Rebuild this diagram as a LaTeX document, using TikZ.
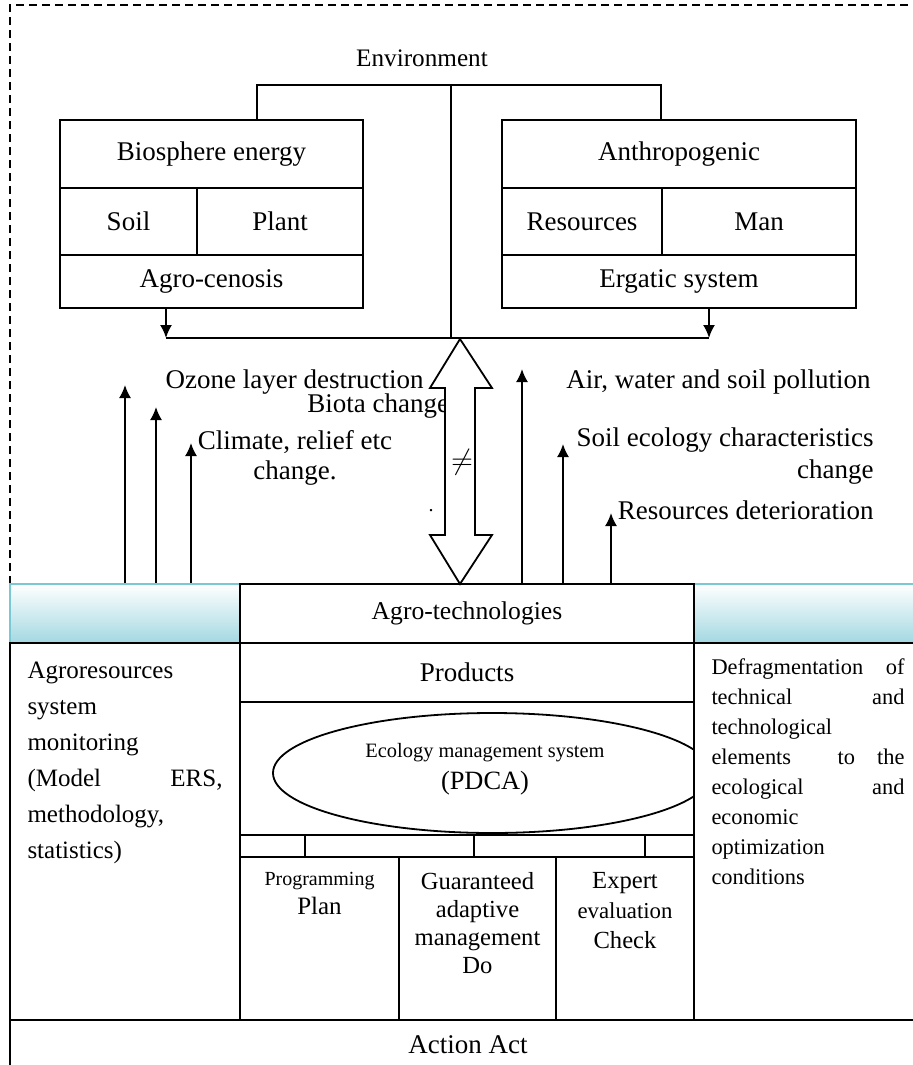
\documentclass[tikz,border=0pt]{standalone}
\usepackage{fontspec}
\setmainfont{Liberation Serif}
\usetikzlibrary{positioning,shapes.geometric,arrows.meta}
\definecolor{bandline}{RGB}{122,200,212}
\definecolor{bandfill}{RGB}{163,216,226}
\tikzset{
    cell/.style = {
        draw,
        line width=0.9pt,
        inner sep=0pt,
        font=\fontsize{13.5}{16}\selectfont
    },
    band/.style = {
        draw=bandline,
        line width=0.9pt,
        top color=white,
        bottom color=bandfill
    },
    note/.style = {
        inner sep=0pt,
        font=\fontsize{13.5}{15}\selectfont
    },
    flow/.style = {
        -{Latex[length=6.5pt,width=6pt]},
        line width=0.9pt
    },
    wire/.style = {
        line width=0.9pt
    },
    frame/.style = {
        line width=0.6pt,
        dash pattern=on 4pt off 2.5pt
    },
    bigarrow/.style = {
        draw,
        fill=white,
        line width=0.9pt,
        line join=miter
    }
}

\begin{document}
\begin{tikzpicture}[x=0.5pt, y=-0.5pt]
    \useasboundingbox (0,0) rectangle (912,1065);

    % Dashed frame
    \draw[frame] (10,584) -- (10,5) -- (916,5);

    % Environment with its two subsystems
    \node[note, font=\fontsize{12.6}{15}\selectfont] (env) at (422,58) {Environment};

    \node[cell, minimum width=151.5pt, minimum height=34pt]   (bio)     at (211.5,154)   {Biosphere energy};
    \node[cell, minimum width=68.5pt,  minimum height=33.5pt] (soil)    at (128.5,221.5) {Soil};
    \node[cell, minimum width=83pt,    minimum height=33.5pt] (plant)   at (280,221.5)   {Plant};
    \node[cell, minimum width=151.5pt, minimum height=26.5pt] (cenosis) at (211.5,281.5) {Agro-cenosis};

    \node[cell, minimum width=177pt, minimum height=34pt]   (anthro)  at (679,154)   {Anthropogenic};
    \node[cell, minimum width=80pt,  minimum height=33.5pt] (res)     at (582,221.5) {Resources};
    \node[cell, minimum width=97pt,  minimum height=33.5pt] (man)     at (759,221.5) {Man};
    \node[cell, minimum width=177pt, minimum height=26.5pt] (ergatic) at (679,281.5) {Ergatic system};

    \coordinate (envL) at (257,85);
    \coordinate (envM) at (451,85);
    \coordinate (envR) at (661,85);
    \coordinate (busL) at (166,338);
    \coordinate (busM) at (451,338);
    \coordinate (busR) at (709,338);

    \draw[wire] (bio.north -| envL) -- (envL) -- (envR) -- (anthro.north -| envR);
    \draw[wire] (envM) -- (busM);
    \draw[wire] (busL) -- (busR);
    \draw[flow] (cenosis.south -| busL) -- (busL);
    \draw[flow] (ergatic.south -| busR) -- (busR);

    % Impacts
    \node[note, anchor=east] (ozone) at (424,382) {Ozone layer destruction};
    \node[note, anchor=west] (biota) at (307,406) {Biota change};
    \node[note, align=center] (climate) at (295,458) {Climate, relief etc\\change.};
    \node[note, anchor=west] (pollution) at (566,382) {Air, water and soil pollution};
    \node[note, align=right, anchor=east, font=\fontsize{13.5}{16}\selectfont] (soilEco) at (874,456) {Soil ecology characteristics\\change};
    \node[note, anchor=east] (decline) at (874,510) {Resources deterioration};

    % Two-way arrow
    \coordinate (dTop) at (460,339);
    \coordinate (dBot) at (460,584);
    \draw[bigarrow] (dTop) -- ++(32,49) -- ++(-17,0) -- ++(0,147) -- ++(17,0) -- (dBot)
        -- ++(-30,-49) -- ++(15,0) -- ++(0,-147) -- ++(-15,0) -- cycle;
    \node[note] (neq) at (462,462) {$\neq$};
    \node[note, font=\fontsize{10}{12}\selectfont] (dot) at (431,511) {.};

    % Middle band
    \node[band, minimum width=115pt, minimum height=29.5pt] (bandL) at (125,613.5) {};
    \node[band, minimum width=111pt, minimum height=29.5pt] (bandR) at (805,613.5) {};
    \node[cell, minimum width=227pt, minimum height=29.5pt, font=\fontsize{12.8}{15}\selectfont] (tech) at (467,613.5) {Agro-technologies};

    \coordinate (upA) at (125,385);
    \coordinate (upB) at (156,407);
    \coordinate (upC) at (191,443);
    \coordinate (upD) at (522,369);
    \coordinate (upE) at (563,444);
    \coordinate (upF) at (611,513);
    \foreach \p in {upA,upB,upC}
        \draw[flow] (bandL.north -| \p) -- (\p);
    \foreach \p in {upD,upE,upF}
        \draw[flow] (tech.north -| \p) -- (\p);

    % Lower part
    \node[cell, minimum width=115pt, minimum height=188.5pt] (monL) at (125,831.5) {};
    \node[cell, minimum width=111pt, minimum height=188.5pt] (monR) at (805,831.5) {};
    \node[cell, minimum width=227pt, minimum height=29.5pt] (prod) at (467,672.5) {Products};
    \node[cell, minimum width=227pt, minimum height=66.5pt] (pdca) at (467,768.5) {};

    \begin{scope}
        \clip (pdca.south west) rectangle (pdca.north east);
        \node[draw, ellipse, line width=0.9pt, minimum width=219pt, minimum height=60pt] (ems) at (492,773) {};
    \end{scope}
    \node[note, font=\fontsize{10.2}{12}\selectfont] (emsText) at (485,753) {Ecology management system};
    \node[note, font=\fontsize{13.2}{15}\selectfont] (pdcaText) at (485,783) {(PDCA)};

    \node[cell, minimum width=32.5pt, minimum height=11pt] (s1) at (272.5,846) {};
    \node[cell, minimum width=84.5pt, minimum height=11pt] (s2) at (389.5,846) {};
    \node[cell, minimum width=85.5pt, minimum height=11pt] (s3) at (559.5,846) {};
    \node[cell, minimum width=24.5pt, minimum height=11pt] (s4) at (669.5,846) {};

    \node[cell, minimum width=79.5pt, minimum height=81.5pt] (planBox)  at (319.5,938.5) {};
    \node[cell, minimum width=78.5pt, minimum height=81.5pt] (doBox)    at (477.5,938.5) {};
    \node[cell, minimum width=69pt,   minimum height=81.5pt] (checkBox) at (625,938.5)   {};

    \node[note, align=center, font=\fontsize{12.5}{14.5}\selectfont, below=8pt of planBox.north] (planText)
        {{\fontsize{10}{12}\selectfont Programming}\\Plan};
    \node[note, align=center, font=\fontsize{12.3}{14}\selectfont, below=8pt of doBox.north] (doText)
        {Guaranteed\\adaptive\\management\\Do};
    \node[note, align=center, font=\fontsize{12.3}{15}\selectfont, below=8pt of checkBox.north] (checkText)
        {Expert\\{\fontsize{11.4}{14}\selectfont evaluation}\\Check};

    \node[note, text width=97.5pt, align=left, font=\fontsize{12.5}{18}\selectfont,
        below right=9.5pt and 9pt of monL.north west] (monText)
        {Agroresources\\system\\monitoring\\(Model\hfill ERS,\\methodology,\\statistics)};
    \node[note, text width=96.5pt, align=left, font=\fontsize{11.2}{15}\selectfont,
        below right=8pt and 9pt of monR.north west] (defText)
        {Defragmentation\hfill of\\technical\hfill and\\technological\\elements\hfill to\hspace{11pt}the\\ecological\hfill and\\economic\\optimization\\conditions};

    \node[cell, minimum width=458pt, minimum height=24.5pt] (act) at (468,1044.5) {Action Act};
\end{tikzpicture}
\end{document}
